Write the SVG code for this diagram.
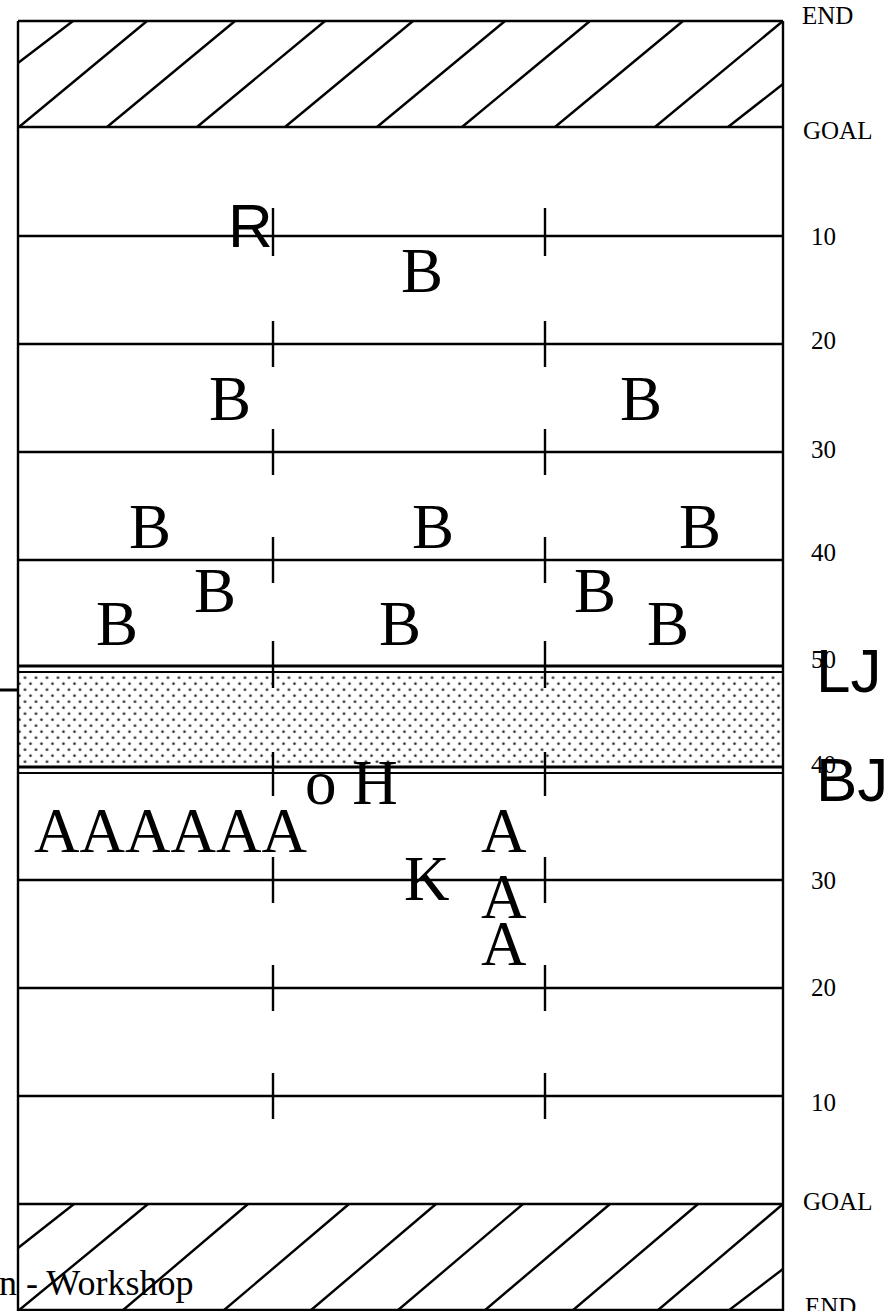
<svg xmlns="http://www.w3.org/2000/svg" width="885" height="1311" viewBox="0 0 885 1311">
<style>
.ln{stroke:#000;stroke-width:2.4;fill:none}
.thk{stroke:#000;stroke-width:3;fill:none}
.thn{stroke:#000;stroke-width:1.8;fill:none}
.ht{stroke:#000;stroke-width:2.4;fill:none}
.lab{font-family:"Liberation Serif","Times New Roman",serif;font-size:25px;fill:#000}
.pl{font-family:"Liberation Serif","Times New Roman",serif;font-size:63px;fill:#000}
.sans{font-family:"Liberation Sans",Arial,sans-serif;font-size:62px;fill:#000}
</style>
<defs>
<pattern id="dots" patternUnits="userSpaceOnUse" x="22.5" y="674.85" width="11" height="12">
<circle cx="2.5" cy="2.85" r="1.3" fill="#222"/>
<circle cx="8" cy="8.85" r="1.3" fill="#222"/>
</pattern>
</defs>
<rect width="885" height="1311" fill="#fff"/>
<g id="band">
<rect x="18" y="672" width="765" height="95" fill="url(#dots)"/>
</g>
<g id="hatch-top">
<line class="ht" x1="18" y1="63" x2="73" y2="21"/>
<line class="ht" x1="19" y1="127" x2="147" y2="21"/>
<line class="ht" x1="107" y1="127" x2="235" y2="21"/>
<line class="ht" x1="197" y1="127" x2="325" y2="21"/>
<line class="ht" x1="285" y1="127" x2="413" y2="21"/>
<line class="ht" x1="377" y1="127" x2="505" y2="21"/>
<line class="ht" x1="462" y1="127" x2="590" y2="21"/>
<line class="ht" x1="555" y1="127" x2="683" y2="21"/>
<line class="ht" x1="655" y1="127" x2="783" y2="21"/>
<line class="ht" x1="728" y1="127" x2="783" y2="84"/>
</g>
<g id="hatch-bottom">
<line class="ht" x1="18" y1="1248" x2="74" y2="1204"/>
<line class="ht" x1="18" y1="1311" x2="148" y2="1204"/>
<line class="ht" x1="122" y1="1311" x2="248" y2="1204"/>
<line class="ht" x1="223" y1="1311" x2="349" y2="1204"/>
<line class="ht" x1="310" y1="1311" x2="436" y2="1204"/>
<line class="ht" x1="397" y1="1311" x2="523" y2="1204"/>
<line class="ht" x1="484" y1="1311" x2="610" y2="1204"/>
<line class="ht" x1="572" y1="1311" x2="698" y2="1204"/>
<line class="ht" x1="657" y1="1311" x2="783" y2="1204"/>
<line class="ht" x1="728" y1="1311" x2="783" y2="1269"/>
</g>
<g id="field-lines">
<line class="ln" x1="18" y1="21" x2="783" y2="21"/>
<line class="ln" x1="18" y1="21" x2="18" y2="1311"/>
<line class="ln" x1="783" y1="21" x2="783" y2="1311"/>
<line class="ln" x1="18" y1="1310" x2="783" y2="1310"/>
<line class="ln" x1="18" y1="127" x2="783" y2="127"/>
<line class="ln" x1="18" y1="236" x2="783" y2="236"/>
<line class="ln" x1="18" y1="344" x2="783" y2="344"/>
<line class="ln" x1="18" y1="452" x2="783" y2="452"/>
<line class="ln" x1="18" y1="560" x2="783" y2="560"/>
<line class="thk" x1="18" y1="666" x2="783" y2="666"/>
<line class="thn" x1="18" y1="672" x2="783" y2="672"/>
<line class="thk" x1="18" y1="767" x2="783" y2="767"/>
<line class="thn" x1="18" y1="773" x2="783" y2="773"/>
<line class="ln" x1="18" y1="880" x2="783" y2="880"/>
<line class="ln" x1="18" y1="988" x2="783" y2="988"/>
<line class="ln" x1="18" y1="1096" x2="783" y2="1096"/>
<line class="ln" x1="18" y1="1204" x2="783" y2="1204"/>
<line class="thk" x1="0" y1="690" x2="18" y2="690"/>
</g>
<g id="hash-marks">
<line class="ln" x1="273" y1="208" x2="273" y2="256"/>
<line class="ln" x1="545" y1="208" x2="545" y2="256"/>
<line class="ln" x1="273" y1="321" x2="273" y2="367"/>
<line class="ln" x1="545" y1="321" x2="545" y2="367"/>
<line class="ln" x1="273" y1="429" x2="273" y2="475"/>
<line class="ln" x1="545" y1="429" x2="545" y2="475"/>
<line class="ln" x1="273" y1="537" x2="273" y2="583"/>
<line class="ln" x1="545" y1="537" x2="545" y2="583"/>
<line class="ln" x1="273" y1="641" x2="273" y2="688"/>
<line class="ln" x1="545" y1="641" x2="545" y2="688"/>
<line class="ln" x1="273" y1="752" x2="273" y2="796"/>
<line class="ln" x1="545" y1="752" x2="545" y2="796"/>
<line class="ln" x1="273" y1="857" x2="273" y2="903"/>
<line class="ln" x1="545" y1="857" x2="545" y2="903"/>
<line class="ln" x1="273" y1="965" x2="273" y2="1011"/>
<line class="ln" x1="545" y1="965" x2="545" y2="1011"/>
<line class="ln" x1="273" y1="1073" x2="273" y2="1119"/>
<line class="ln" x1="545" y1="1073" x2="545" y2="1119"/>
</g>
<g id="yard-labels">
<text class="lab" x="802" y="24">END</text>
<text class="lab" x="803" y="139">GOAL</text>
<text class="lab" x="811" y="245">10</text>
<text class="lab" x="811" y="349">20</text>
<text class="lab" x="811" y="458">30</text>
<text class="lab" x="811" y="561">40</text>
<text class="lab" x="811" y="668">50</text>
<text class="lab" x="811" y="773">40</text>
<text class="lab" x="811" y="889">30</text>
<text class="lab" x="811" y="996">20</text>
<text class="lab" x="811" y="1111">10</text>
<text class="lab" x="803" y="1210">GOAL</text>
<text class="lab" x="805" y="1315">END</text>
</g>
<g id="lines-labels">
<text class="sans" x="816" y="692">LJ</text>
<text class="sans" x="816" y="801">BJ</text>
</g>
<g id="defense">
<text class="sans" x="228" y="247">R</text>
<text class="pl" x="401" y="292">B</text>
<text class="pl" x="209" y="420">B</text>
<text class="pl" x="620" y="420">B</text>
<text class="pl" x="129" y="548">B</text>
<text class="pl" x="412" y="548">B</text>
<text class="pl" x="679" y="548">B</text>
<text class="pl" x="194" y="612">B</text>
<text class="pl" x="574" y="612">B</text>
<text class="pl" x="96" y="645">B</text>
<text class="pl" x="379" y="645">B</text>
<text class="pl" x="647" y="645">B</text>
</g>
<g id="offense">
<text class="pl" x="305" y="804">o H</text>
<text class="pl" x="34" y="852">AAAAAA</text>
<text class="pl" x="481" y="852">A</text>
<text class="pl" x="404" y="900">K</text>
<text class="pl" x="481" y="918">A</text>
<text class="pl" x="481" y="965">A</text>
</g>
<g id="footer">
<text class="lab" style="font-size:36px" x="-1" y="1295">n - Workshop</text>
</g>
</svg>
